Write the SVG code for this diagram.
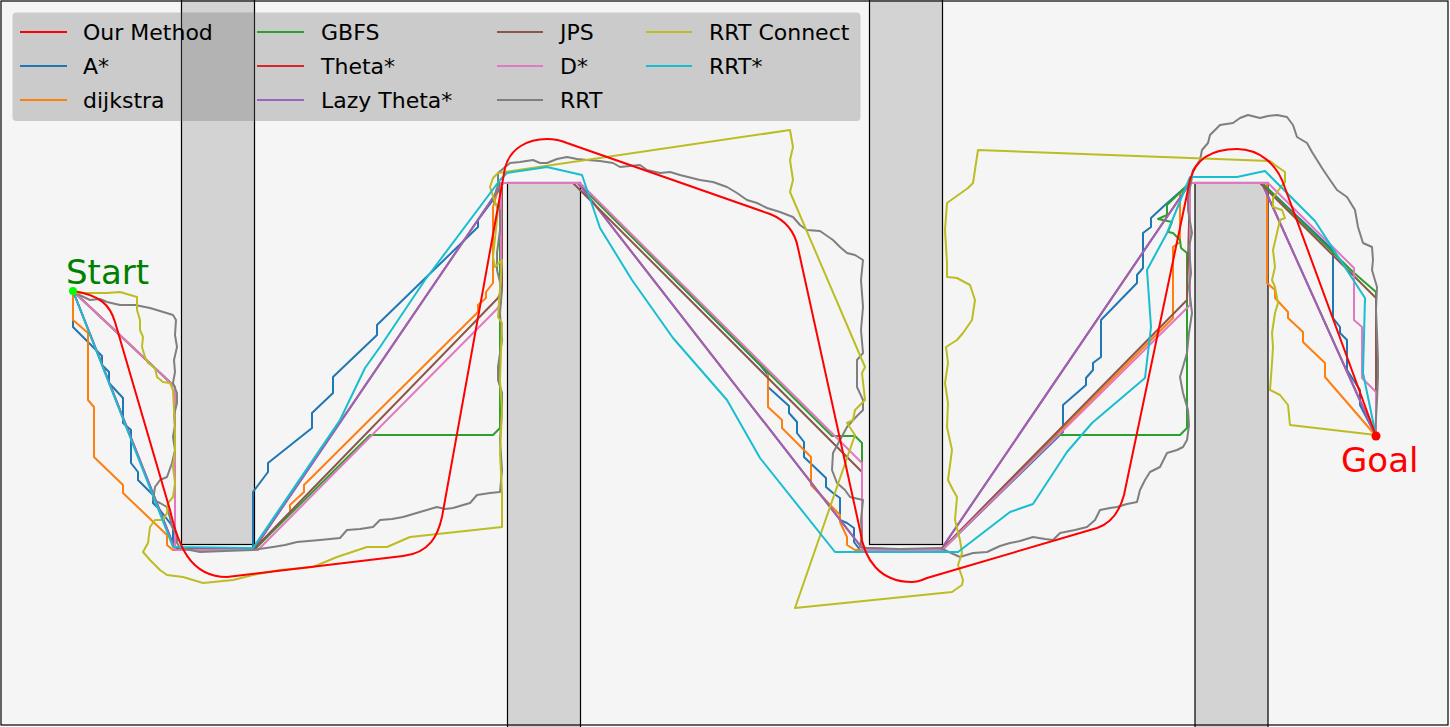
<svg xmlns="http://www.w3.org/2000/svg" width="1450" height="727" viewBox="0 0 1450 727">
<style>
.obs{fill:#d3d3d3;stroke:#000;stroke-width:1.2}
.p{fill:none;stroke-width:2;stroke-linejoin:round;stroke-linecap:butt}
.lg{font-family:"DejaVu Sans",sans-serif;font-size:22px;fill:#000}
.ll{stroke-width:2}
</style>
<rect x="0" y="0" width="1450" height="727" fill="#ffffff"/>
<rect x="1" y="1" width="1447" height="724" fill="#f5f5f5"/>
<g id="obstacles">
<rect id="obs1" class="obs" x="181.5" y="-2" width="73" height="546.5"/>
<rect id="obs2" class="obs" x="507.5" y="182.5" width="73" height="548"/>
<rect id="obs3" class="obs" x="869.5" y="-2" width="73" height="546.5"/>
<rect id="obs4" class="obs" x="1195" y="182.5" width="73" height="548"/>
</g>
<g id="connectors">
<polyline id="astar" class="p" stroke="#1f77b4" points="73,291 73,327 102,356 102,365 109,372 109,383 123,398 123,423 131,430 131,463 138,472 138,480 153,495 153,503 160,510 173,527 173,543 178,550 253,550 253,492 268,472 268,463 312,428 312,413 333,393 333,377 377,335 377,325 478,227 478,220 493,200 503,183 578,183 760,365 768,375 768,387 789,406 789,413 797,422 797,433 804,442 804,457 826,478 826,487 833,493 840,498 840,520 847,523 854,528 854,542 860,550 942,550 1063,432 1063,405 1086,385 1086,378 1093,370 1093,363 1101,357 1101,320 1137,283 1137,275 1143,268 1143,233 1151,227 1151,218 1165,205 1190,183 1262,183 1333,250 1333,318 1340,327 1340,333 1347,340 1347,370 1360,390 1360,405 1376,436"/>
<polyline id="dijkstra" class="p" stroke="#ff7f0e" points="73,291 73,320 88,333 88,400 94,407 94,457 123,485 123,493 167,535 167,545 173,550 254,550 290,513 290,505 304,492 304,485 478,312 478,305 486,298 486,292 493,283 493,207 500,183 578,183 768,372 768,407 782,420 782,428 811,457 811,485 840,515 840,522 847,537 847,545 855,550 942,550 1173,318 1173,247 1180,242 1180,193 1190,183 1267,183 1267,283 1275,290 1275,298 1288,312 1288,318 1303,332 1303,342 1325,363 1325,377 1376,436"/>
<polyline id="gbfs" class="p" stroke="#2ca02c" points="73,291 175,387 175,550 254,550 370,435 493,435 500,428 500,183 578,183 832,436 855,436 862,443 862,550 942,550 1058,435 1180,435 1187,428 1187,253 1181,248 1180,240 1173,233 1168,232 1172,222 1158,219 1167,215 1167,205 1190,183 1262,183 1353,272 1376,292 1376,436"/>
<polyline id="theta" class="p" stroke="#d62728" points="73,291 175,549 254,549 503,183 578,183 862,548 940,551 1190,183 1262,183 1376,436"/>
<polyline id="lazytheta" class="p" stroke="#9467bd" points="73,291 175,549 254,549 503,183 578,183 862,548 940,551 1190,183 1262,183 1376,436"/>
<polyline id="jps" class="p" stroke="#8c564b" points="73,291 175,387 175,549 254,549 498,298 502,290 502,183 573,183 862,472 862,549 942,549 1187,300 1190,183 1260,183 1376,298 1376,436"/>
<polyline id="dstar" class="p" stroke="#e377c2" points="73,291 175,387 175,550 258,550 497,309 501,303 501,183 580,183 862,463 862,550 942,550 1190,305 1190,183 1268,183 1354,268 1354,320 1362,327 1362,378 1376,392 1376,436"/>
<polyline id="rrt" class="p" stroke="#7f7f7f" points="73,292 90,300 100,299 107,302 120,305 135,305 150,308 160,311 173,315 176,320 175,335 177,347 174,360 175,372 173,383 177,393 177,403 174,415 175,425 173,437 175,450 172,463 167,477 160,480 155,487 153,500 160,503 167,507 170,518 172,527 177,535 177,543 180,548 200,552 225,551 253,550 273,547 285,545 297,542 320,540 340,538 347,530 360,529 373,527 380,520 392,519 403,517 420,512 437,507 445,509 453,508 470,503 477,495 490,493 500,492 502,470 500,440 502,410 502,393 498,380 498,367 502,340 500,313 502,290 497,270 497,253 500,230 500,210 493,200 498,185 498,173 510,163 520,162 533,160 540,163 547,163 557,159 567,157 577,159 587,160 600,161 613,163 620,167 630,166 640,165 647,170 660,173 670,172 680,175 700,180 713,182 727,187 737,193 747,200 757,203 767,208 780,212 793,217 800,225 807,230 820,231 833,240 840,247 847,253 855,255 863,260 861,280 863,307 861,330 863,353 857,360 857,387 863,400 863,410 855,418 847,427 840,440 833,453 832,470 837,483 845,490 850,497 863,500 861,520 862,535 860,547 867,548 900,549 940,548 960,557 973,553 987,552 1000,546 1010,543 1020,541 1033,537 1045,539 1053,540 1060,533 1075,530 1087,527 1095,520 1100,510 1110,508 1117,507 1127,504 1137,502 1140,490 1145,480 1150,472 1160,467 1167,453 1177,450 1183,447 1187,440 1189,425 1188,410 1183,393 1180,377 1187,353 1189,333 1192,313 1189,287 1191,273 1189,247 1192,233 1188,210 1188,197 1191,183 1193,170 1200,160 1202,150 1208,143 1210,135 1220,125 1233,123 1240,118 1248,115 1260,118 1268,116 1277,115 1287,117 1293,125 1297,137 1307,143 1312,152 1317,160 1322,168 1328,177 1337,190 1347,197 1355,210 1358,227 1363,243 1372,247 1373,260 1372,270 1377,287 1376,310 1377,333 1378,360 1378,377 1377,400 1375,436"/>
<polyline id="rrtconnect" class="p" stroke="#bcbd22" points="73,292 77,293 90,293 107,293 120,292 137,297 137,310 140,320 140,330 143,337 142,347 145,357 148,363 155,368 157,377 163,382 170,383 173,390 174,410 175,433 175,450 173,467 175,483 173,497 168,503 167,513 163,520 155,520 150,527 148,543 143,552 150,560 160,570 167,575 183,577 203,583 213,582 233,580 253,575 280,570 313,567 337,557 367,547 387,547 410,537 502,527 502,493 500,453 502,410 500,380 502,323 498,317 502,260 495,267 493,257 498,210 495,202 490,187 493,178 498,173 790,130 793,147 790,160 793,180 790,192 865,367 862,373 865,400 855,410 853,420 847,423 855,435 795,608 952,592 962,585 963,580 958,565 962,553 960,540 955,520 957,497 953,490 948,480 952,450 947,427 948,403 945,383 948,363 946,347 957,340 963,333 972,320 975,300 970,285 957,278 947,277 947,263 945,230 947,203 968,188 973,183 978,150 1270,161 1275,165 1285,172 1285,182 1280,188 1273,198 1273,207 1282,210 1285,218 1280,220 1277,233 1273,250 1275,267 1272,280 1275,287 1278,303 1275,313 1272,333 1273,347 1272,363 1270,390 1280,395 1288,405 1290,425 1376,435"/>
<polyline id="rrtstar" class="p" stroke="#17becf" points="73,291 173,547 253,548 340,420 365,368 380,347 425,280 500,180 507,173 547,167 582,175 600,228 632,280 673,338 727,400 760,458 835,552 958,552 1010,512 1033,504 1067,452 1092,423 1145,378 1151,327 1147,270 1167,233 1190,177 1237,177 1265,171 1315,221 1365,298 1363,373 1376,436"/>
<path id="ourmethod" class="p" stroke="#ff0000" stroke-width="2.7" d="M73,291 C100,295 110,305 115,322 L170,510 C178,545 190,577 227,577 L403,556 C430,553 438,535 442,517 L505,168 C510,148 528,139 547,139 C555,139 560,140 567,143 L770,214 C785,220 795,232 798,248 L860,530 C864,560 880,582 912,582 C918,582 922,580 927,578 L1097,528 C1112,523 1120,510 1124,495 L1190,180 C1196,157 1215,149 1237,149 C1260,149 1278,165 1285,188 L1376,436"/>
</g>
<g id="start">
<circle cx="73" cy="291" r="4" fill="#00ff00"/>
<text x="66" y="284" font-family="DejaVu Sans, sans-serif" font-size="34" fill="#008000">Start</text>
</g>
<g id="goal">
<circle cx="1376" cy="436" r="4.5" fill="#ff0000"/>
<text x="1341" y="472" font-family="DejaVu Sans, sans-serif" font-size="34" fill="#ff0000">Goal</text>
</g>
<g id="legend">
<rect x="12.5" y="12.5" width="848" height="108.5" rx="4" fill="#696969" fill-opacity="0.3"/>
<line class="ll" x1="20" y1="32" x2="67" y2="32" stroke="#ff0000"/>
<line class="ll" x1="20" y1="66" x2="67" y2="66" stroke="#1f77b4"/>
<line class="ll" x1="20" y1="100" x2="67" y2="100" stroke="#ff7f0e"/>
<line class="ll" x1="257" y1="32" x2="304" y2="32" stroke="#2ca02c"/>
<line class="ll" x1="257" y1="66" x2="304" y2="66" stroke="#d62728"/>
<line class="ll" x1="257" y1="100" x2="304" y2="100" stroke="#9467bd"/>
<line class="ll" x1="497" y1="32" x2="543" y2="32" stroke="#8c564b"/>
<line class="ll" x1="497" y1="66" x2="543" y2="66" stroke="#e377c2"/>
<line class="ll" x1="497" y1="100" x2="543" y2="100" stroke="#7f7f7f"/>
<line class="ll" x1="646" y1="32" x2="692" y2="32" stroke="#bcbd22"/>
<line class="ll" x1="646" y1="66" x2="692" y2="66" stroke="#17becf"/>
<text class="lg" x="83" y="39.5">Our Method</text>
<text class="lg" x="83" y="73.5">A*</text>
<text class="lg" x="83" y="107.5">dijkstra</text>
<text class="lg" x="321" y="39.5">GBFS</text>
<text class="lg" x="321" y="73.5">Theta*</text>
<text class="lg" x="321" y="107.5">Lazy Theta*</text>
<text class="lg" x="560" y="39.5">JPS</text>
<text class="lg" x="560" y="73.5">D*</text>
<text class="lg" x="560" y="107.5">RRT</text>
<text class="lg" x="709" y="39.5">RRT Connect</text>
<text class="lg" x="709" y="73.5">RRT*</text>
</g>
<rect x="1" y="1" width="1447" height="724" fill="none" stroke="#000" stroke-width="1.2"/>
</svg>
